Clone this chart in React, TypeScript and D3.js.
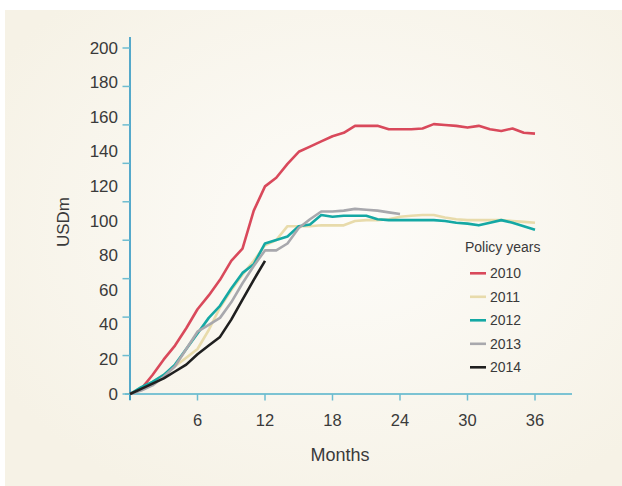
import React from "react";
import * as d3 from "d3";

const months2010 = d3.range(0, 37);
const y2010 = [0, 3, 11, 20, 28, 38, 49, 57, 66, 77, 84, 106, 120, 125, 133, 140, 143, 146, 149, 151, 155, 155, 155, 153, 153, 153, 153.5, 156, 155.5, 155, 154, 155, 153, 152, 153.5, 151, 150.5];
const y2011 = [0, 3, 7, 11, 16, 21, 26, 37, 50, 60, 69, 77, 86, 89, 97, 97, 97, 97.5, 97.5, 97.5, 100, 100.5, 100.5, 101, 102.5, 103, 103.5, 103.5, 102, 101, 100.5, 100.5, 100.5, 100.5, 100, 99.5, 99];
const y2012 = [0, 4, 7, 11, 17, 26, 35, 44, 51, 61, 70, 75, 87, 89, 91, 97, 98, 103.5, 102.5, 103, 103, 103, 101, 100.5, 100.5, 100.5, 100.5, 100.5, 100, 99, 98.5, 97.5, 99, 100.5, 99, 97, 95];
const y2013 = [0, 2, 5, 10, 16, 26, 36, 40, 44, 53, 64, 74, 83, 83, 87, 96, 101, 105.5, 105.5, 106, 107, 106.5, 106, 105, 104];
const y2014 = [0, 3, 6, 9, 13, 17, 23, 28, 33, 43, 54.5, 66, 77];

const seriesNames = ["2010", "2011", "2012", "2013", "2014"];
const seriesValues = [y2010, y2011, y2012, y2013, y2014];
const seriesColors = ["#d9495b", "#e8dbab", "#14a8a4", "#a8a8ad", "#1f1f1f"];

const yLabelTicks = [0, 20, 40, 60, 80, 100, 120, 140, 160, 180, 200];
const xLabelTicks = [6, 12, 18, 24, 30, 36];
const xTickMarks = [0, 6, 12, 18, 24, 30, 36];
const yTickMarkCount = 9; // the original's tick marks divide 0..200 in 9 steps

export default function App() {
  const W = 622, H = 486;
  const x = d3.scaleLinear().domain([0, 36]).range([130, 535]);
  const y = d3.scaleLinear().domain([0, 200]).range([394, 48]);
  const line = d3.line<number>().x((_, i) => x(months2010[i])).y((d) => y(d));
  const yTickMarks = d3.range(yTickMarkCount + 1).map((i) => (200 * i) / yTickMarkCount);
  const font = "'Liberation Sans', Arial, sans-serif";
  const txt = "#3a3a3a";

  return (
    <svg width={W} height={H} style={{ position: "absolute", left: 0, top: 0 }} fontFamily={font}>
      <defs>
        <radialGradient id="bg" cx="0.55" cy="0.45" r="0.65">
          <stop offset="0" stopColor="#fdfcf9" />
          <stop offset="1" stopColor="#f6f2e6" />
        </radialGradient>
      </defs>
      <rect x={0} y={0} width={W} height={H} fill="#ffffff" />
      <rect x={5} y={10} width={617} height={476} fill="url(#bg)" />

      {/* x axis */}
      <line x1={125} x2={572} y1={y(0)} y2={y(0)} stroke="#7cc3d3" strokeWidth={2} />
      {xTickMarks.map((t) => (
        <line key={"xt" + t} x1={x(t)} x2={x(t)} y1={y(0)} y2={y(0) + 6.5} stroke="#6dbcd0" strokeWidth={1.5} />
      ))}
      {xLabelTicks.map((t) => (
        <text key={"xl" + t} x={x(t)} y={420} textAnchor="middle" dominantBaseline="central" fontSize={16.5} fill={txt}>
          {t}
        </text>
      ))}
      <text x={340} y={455} textAnchor="middle" dominantBaseline="central" fontSize={18} fill={txt}>
        Months
      </text>

      {/* y axis */}
      <line x1={130} x2={130} y1={37} y2={400} stroke="#1e8fbf" strokeWidth={1.5} />
      {yTickMarks.map((t, i) => (
        <line key={"yt" + i} x1={122.5} x2={130} y1={y(t)} y2={y(t)} stroke="#6dbcd0" strokeWidth={1.5} />
      ))}
      {yLabelTicks.map((t) => (
        <text key={"yl" + t} x={118} y={y(t)} textAnchor="end" dominantBaseline="central" fontSize={17} fill={txt}>
          {t}
        </text>
      ))}
      <text transform="translate(63,222) rotate(-90)" textAnchor="middle" dominantBaseline="central" fontSize={17} fill={txt}>
        USDm
      </text>

      {/* series */}
      {seriesValues.map((vals, i) => (
        <path key={seriesNames[i]} d={line(vals) || ""} fill="none" stroke={seriesColors[i]} strokeWidth={2.6} strokeLinejoin="round" strokeLinecap="butt" />
      ))}

      {/* legend */}
      <text x={465} y={247} dominantBaseline="central" fontSize={14} fill={txt}>
        Policy years
      </text>
      {seriesNames.map((n, i) => (
        <g key={"lg" + n} transform={`translate(0,${273.3 + i * 23.5})`}>
          <line x1={470} x2={486} y1={0} y2={0} stroke={seriesColors[i]} strokeWidth={2.6} />
          <text x={490} y={0} dominantBaseline="central" fontSize={14} fill={txt}>
            {n}
          </text>
        </g>
      ))}
    </svg>
  );
}
